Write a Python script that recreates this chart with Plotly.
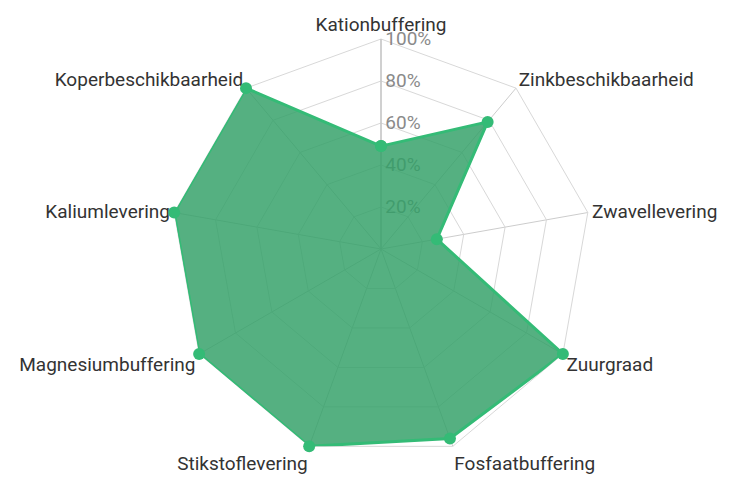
import plotly.graph_objects as go

categories = ["Kationbuffering", "Zinkbeschikbaarheid", "Zwavellevering", "Zuurgraad",
              "Fosfaatbuffering", "Stikstoflevering", "Magnesiumbuffering",
              "Kaliumlevering", "Koperbeschikbaarheid"]
values = [49, 79, 27, 100, 96, 100, 100, 100, 100]
tick_values = [20, 40, 60, 80, 100]
tick_labels = ["20%", "40%", "60%", "80%", "100%"]

fig = go.Figure()
fig.add_trace(go.Scatterpolar(
    r=values + values[:1],
    theta=categories + categories[:1],
    mode="lines+markers",
    fill="toself",
    fillcolor="rgba(50,160,104,0.83)",
    line=dict(color="#34bb76", width=3),
    marker=dict(color="#34bb76", size=12),
    hoverinfo="skip",
))

fig.update_layout(
    width=753, height=481,
    margin=dict(l=2, r=9, t=31, b=30, autoexpand=False),
    paper_bgcolor="white",
    showlegend=False,
    font=dict(family="Roboto", size=19, color="#333333"),
    polar=dict(
        bgcolor="white",
        gridshape="linear",
        domain=dict(x=[0, 1], y=[0, 1]),
        radialaxis=dict(
            range=[0, 100],
            tickvals=tick_values,
            ticktext=tick_labels,
            angle=90,
            tickangle=90,
            side="clockwise",
            showline=True,
            linecolor="#bbbbbb",
            ticks="",
            gridcolor="#d8d8d8",
            gridwidth=1,
            tickfont=dict(family="Roboto", size=19, color="#8a8a8a"),
            layer="below traces",
        ),
        angularaxis=dict(
            rotation=90,
            direction="clockwise",
            gridcolor="#cccccc",
            linecolor="#d8d8d8",
            showline=True,
            ticks="",
            tickfont=dict(family="Roboto", size=19, color="#333333"),
            layer="below traces",
        ),
    ),
)

fig.write_html("out.html")
